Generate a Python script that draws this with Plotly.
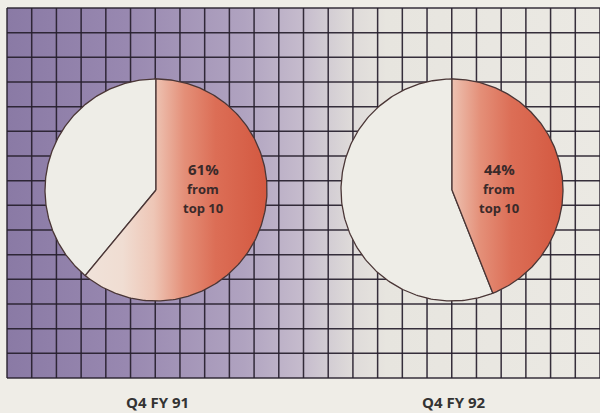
import numpy as np
import plotly.graph_objects as go

# ---- data ----
categories = ["Q4 FY 91", "Q4 FY 92"]
top10_share = [61, 44]          # percent of revenue from top 10
slice_notes = ["from", "top 10"]

# ---- layout / style (pixel coordinate system) ----
W, H = 600, 413
paper_bg = "#efede7"
grid_x0, grid_x1, grid_y0, grid_y1 = 7, 600, 8, 378
n_cols, n_rows = 24, 15
pie_cx = [156, 452]
pie_cy = 190
pie_r = 111
outline = "#4a3636"
white_fill = "#eeede7"

fig = go.Figure()

# background gradient panel
fig.add_trace(go.Scatter(
    x=[grid_x0, grid_x1, grid_x1, grid_x0, grid_x0],
    y=[grid_y0, grid_y0, grid_y1, grid_y1, grid_y0],
    mode="lines", line=dict(width=0), fill="toself",
    fillgradient=dict(type="horizontal", start=grid_x0, stop=grid_x1,
                      colorscale=[[0.0, "#8a7aa5"], [0.2, "#9888b0"],
                                  [0.4, "#b0a3c0"], [0.5, "#c6bccd"],
                                  [0.54, "#d2ccd3"], [0.58, "#dedad9"],
                                  [0.64, "#e7e5df"], [1.0, "#ebe9e3"]]),
    hoverinfo="skip", showlegend=False))

# grid lines
gx, gy = [], []
for i in range(n_cols + 1):
    x = grid_x0 + (grid_x1 - grid_x0) * i / n_cols
    gx += [x, x, None]
    gy += [grid_y0, grid_y1, None]
for j in range(n_rows + 1):
    y = grid_y0 + (grid_y1 - grid_y0) * j / n_rows
    gx += [grid_x0, grid_x1, None]
    gy += [y, y, None]
fig.add_trace(go.Scatter(x=gx, y=gy, mode="lines",
                         line=dict(color="rgba(38,30,44,0.92)", width=1.5),
                         hoverinfo="skip", showlegend=False))


def arc(cx, cy, r, a0, a1, n=200):
    t = np.radians(np.linspace(a0, a1, n))
    return cx + r * np.sin(t), cy - r * np.cos(t)


for k, share in enumerate(top10_share):
    cx = pie_cx[k]
    ang = share * 3.6
    # white (rest) slice
    ax, ay = arc(cx, pie_cy, pie_r, ang, 360)
    fig.add_trace(go.Scatter(
        x=np.concatenate([[cx], ax, [cx]]), y=np.concatenate([[pie_cy], ay, [pie_cy]]),
        mode="lines", fill="toself", fillcolor=white_fill,
        line=dict(color=outline, width=1.3), hoverinfo="skip", showlegend=False))
    # top-10 slice with horizontal gradient
    ax, ay = arc(cx, pie_cy, pie_r, 0, ang)
    fig.add_trace(go.Scatter(
        x=np.concatenate([[cx], ax, [cx]]), y=np.concatenate([[pie_cy], ay, [pie_cy]]),
        mode="lines", fill="toself",
        fillgradient=dict(type="horizontal", start=cx - 95, stop=cx + pie_r,
                          colorscale=[[0.0, "#f0e6df"], [0.3, "#f0ddd2"],
                                      [0.45, "#eec6b6"], [0.6, "#e48f78"],
                                      [0.75, "#dc6e56"], [1.0, "#d35840"]]),
        line=dict(color=outline, width=1.3), hoverinfo="skip", showlegend=False))
    # slice label
    fig.add_annotation(x=cx + 47, y=pie_cy - 21, xref="x", yref="y",
                       text=f"<b>{share}%</b>", showarrow=False,
                       font=dict(family="Open Sans", size=15, color="#3a2a2a"))
    for m, note in enumerate(slice_notes):
        fig.add_annotation(x=cx + 47, y=pie_cy - 1 + 19 * m, xref="x", yref="y",
                           text=f"<b>{note}</b>", showarrow=False,
                           font=dict(family="Open Sans", size=13, color="#3a2a2a"))
    # category label
    fig.add_annotation(x=cx + 1, y=402, xref="x", yref="y",
                       text=f"<b>{categories[k]}</b>", showarrow=False,
                       font=dict(family="Open Sans", size=15, color="#333333"))

fig.update_layout(
    width=W, height=H, margin=dict(l=0, r=0, t=0, b=0),
    paper_bgcolor=paper_bg, plot_bgcolor=paper_bg,
    xaxis=dict(range=[0, W], visible=False, fixedrange=True),
    yaxis=dict(range=[H, 0], visible=False, fixedrange=True),
    showlegend=False,
)
fig.write_html("out.html", config={"displayModeBar": False})
